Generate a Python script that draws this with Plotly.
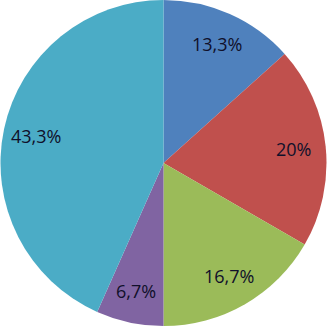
import math
import plotly.graph_objects as go

categories = ["A", "B", "C", "D", "E"]
values = [4, 6, 5, 2, 13]
labels_text = ["13,3%", "20%", "16,7%", "6,7%", "43,3%"]
colors = ["#4F81BD", "#C0504D", "#9BBB59", "#8064A2", "#4BACC6"]

W, H = 327, 326

fig = go.Figure(go.Pie(
    labels=categories,
    values=values,
    textinfo="none",
    sort=False,
    direction="clockwise",
    rotation=0,
    marker=dict(colors=colors, line=dict(width=0)),
    showlegend=False,
    hoverinfo="label+value",
    domain=dict(x=[0, 1], y=[0, 1]),
))

# label positions at slice mid-angles, ~0.8 of radius (like Excel best fit)
total = sum(values)
R = min(W, H) / 2.0
cum = 0.0
for v, t in zip(values, labels_text):
    mid = (cum + v / 2.0) / total * 2 * math.pi
    cum += v
    rf = 0.8
    x = 0.5 + rf * R * math.sin(mid) / W
    y = 0.5 + rf * R * math.cos(mid) / H
    fig.add_annotation(x=x, y=y, xref="paper", yref="paper", text=t,
                       showarrow=False, xanchor="center", yanchor="middle",
                       font=dict(family="Open Sans", size=18, color="#10102a"))

fig.update_layout(
    width=W, height=H,
    margin=dict(l=0, r=0, t=0, b=0),
    paper_bgcolor="white",
)
fig.write_html("out.html", config={"displayModeBar": False},
               post_script="document.body.style.margin='0';document.body.style.overflow='hidden';")
